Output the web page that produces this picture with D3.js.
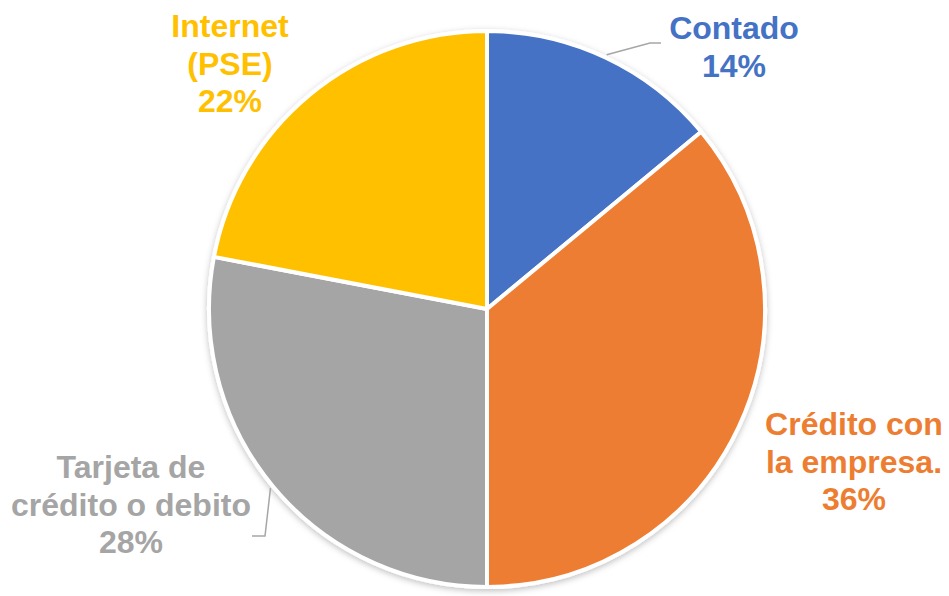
<!DOCTYPE html>
<html lang="es">
<head>
<meta charset="UTF-8">
<title>Forma de pago</title>
<script src="https://d3js.org/d3.v7.min.js"></script>
<style>
  body { margin: 0; background: #fff; }
  svg text { font-family: "Liberation Sans", Arial, sans-serif; font-weight: bold; }
</style>
</head>
<body>
<svg id="chart" width="949" height="596"></svg>
<script>
// data
var categories = ["Contado", "Crédito con la empresa.", "Tarjeta de crédito o debito", "Internet (PSE)"];
var values = [14, 36, 28, 22];
var labelLines = [["Contado", "14%"], ["Crédito con", "la empresa.", "36%"], ["Tarjeta de", "crédito o debito", "28%"], ["Internet", "(PSE)", "22%"]];
var colors = ["#4472C4", "#ED7D31", "#A5A5A5", "#FFC000"];

var svg = d3.select("#chart"),
    cx = 487, cy = 309, radius = 278;

// label placement (center x, first baseline y) and leader line elbows
var labelPos = [
  { x: 734, y: 39, leader: [[661, 43], [650, 43]] },
  { x: 854, y: 435 },
  { x: 131, y: 478, leader: [[252, 536], [265, 536]] },
  { x: 230, y: 37 }
];

var defs = svg.append("defs");
var f = defs.append("filter").attr("id", "shadow")
  .attr("x", "-10%").attr("y", "-10%").attr("width", "120%").attr("height", "120%");
f.append("feDropShadow").attr("dx", 0).attr("dy", 2).attr("stdDeviation", 3)
  .attr("flood-color", "#000").attr("flood-opacity", 0.25);

var pie = d3.pie().sort(null).value(function(d) { return d; });
var arcs = pie(values);
var arc = d3.arc().innerRadius(0).outerRadius(radius);
var edge = d3.arc().innerRadius(radius + 3).outerRadius(radius + 3);

var g = svg.append("g").attr("transform", "translate(" + cx + "," + cy + ")");

g.append("g").attr("filter", "url(#shadow)")
  .selectAll("path")
  .data(arcs)
  .enter()
  .append("path")
  .attr("d", arc)
  .attr("fill", function(d, i) { return colors[i]; })
  .attr("stroke", "#fff")
  .attr("stroke-width", 4)
  .attr("stroke-linejoin", "round");

// leader lines
arcs.forEach(function(d, i) {
  var lp = labelPos[i];
  if (!lp.leader) return;
  var start = edge.centroid(d);
  var pts = lp.leader.map(function(p) { return [p[0], p[1]]; });
  pts.push([start[0] + cx, start[1] + cy]);
  svg.append("path")
    .attr("d", d3.line()(pts))
    .attr("fill", "none")
    .attr("stroke", "#A6A6A6")
    .attr("stroke-width", 1.5);
});

// labels
labelLines.forEach(function(lines, i) {
  var lp = labelPos[i];
  var t = svg.append("text")
    .attr("x", lp.x)
    .attr("y", lp.y)
    .attr("text-anchor", "middle")
    .attr("font-size", 32)
    .attr("fill", colors[i]);
  lines.forEach(function(s, j) {
    t.append("tspan").attr("x", lp.x).attr("dy", j === 0 ? 0 : 37.5).text(s);
  });
});
</script>
</body>
</html>
